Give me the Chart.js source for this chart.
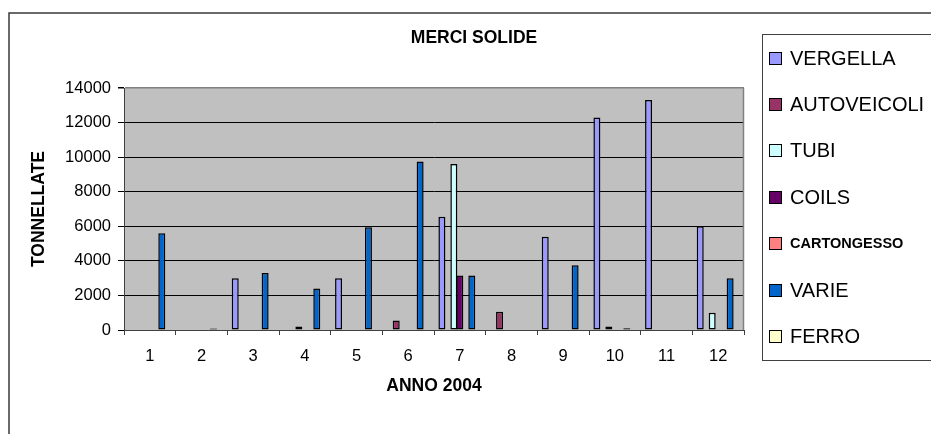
<!DOCTYPE html>
<html>
<head>
<meta charset="utf-8">
<script src="https://cdn.jsdelivr.net/npm/chart.js@4.4.1/dist/chart.umd.min.js"></script>
<style>
  html, body { margin: 0; padding: 0; background: #fff; }
</style>
</head>
<body>
<canvas id="merciChart" width="931" height="434"></canvas>
<script>
// mesi dell'anno 2004
const mesi = ['1', '2', '3', '4', '5', '6', '7', '8', '9', '10', '11', '12'];
const yTicks = [0, 2000, 4000, 6000, 8000, 10000, 12000, 14000];

// tonnellate per tipo di merce
const vergella    = [0, 0, 3000, 0, 3000, 0, 6550, 0, 5400, 12300, 13300, 6000];
const autoveicoli = [0, 0, 0, 0, 0, 550, 0, 1050, 0, 0, 0, 0];
const tubi        = [0, 0, 0, 200, 0, 0, 9600, 0, 0, 200, 0, 1000];
const coils       = [0, 0, 0, 0, 0, 0, 3150, 0, 0, 0, 0, 0];
const cartongesso = [0, 0, 0, 0, 0, 0, 0, 0, 0, 0, 0, 0];
const varie       = [5600, 80, 3300, 2400, 5950, 9750, 3150, 0, 3750, 100, 0, 3000];
const ferro       = [0, 0, 0, 0, 0, 0, 0, 0, 0, 0, 0, 0];

const nomi = ['VERGELLA', 'AUTOVEICOLI', 'TUBI', 'COILS', 'CARTONGESSO', 'VARIE', 'FERRO'];
const valori = [vergella, autoveicoli, tubi, coils, cartongesso, varie, ferro];
const colori = ['#9999FF', '#993366', '#CCFFFF', '#660066', '#FF8080', '#0066CC', '#FFFFCC'];

const FONT = '"Liberation Sans", Arial, sans-serif';

// sfondo grigio, cornice esterna, legenda e titolo alla Excel
const stileExcel = {
    id: 'stileExcel',
    beforeDraw(chart) {
        const c = chart.ctx, a = chart.chartArea;
        c.save();
        c.fillStyle = '#fff';
        c.fillRect(0, 0, chart.width, chart.height);
        c.strokeStyle = '#3a3a3a';
        c.lineWidth = 1.5;
        c.strokeRect(9, 13, 960, 460);
        c.fillStyle = '#C0C0C0';
        c.fillRect(a.left, a.top, a.right - a.left, a.bottom - a.top);
        c.restore();
    },
    afterDraw(chart) {
        const c = chart.ctx, a = chart.chartArea;
        c.save();
        // bordo destro dell'area del grafico
        c.strokeStyle = '#808080';
        c.lineWidth = 1.5;
        c.beginPath();
        c.moveTo(a.right - 0.5, a.top);
        c.lineTo(a.right - 0.5, a.bottom);
        c.stroke();

        // titolo
        c.fillStyle = '#000';
        c.font = 'bold 17.5px ' + FONT;
        c.textAlign = 'center';
        c.textBaseline = 'middle';
        c.fillText('MERCI SOLIDE', 474, 38);

        // legenda
        c.strokeStyle = '#404040';
        c.lineWidth = 1;
        c.strokeRect(762.5, 34.5, 300, 326);
        c.textAlign = 'left';
        chart.data.datasets.forEach((ds, i) => {
            const yc = Math.round(57.5 + i * 46.4);
            c.fillStyle = ds.backgroundColor;
            c.fillRect(769, yc - 6, 13, 13);
            c.strokeStyle = '#000';
            c.strokeRect(769.5, yc - 5.5, 12, 12);
            c.fillStyle = '#000';
            c.font = ds.label === 'CARTONGESSO' ? 'bold 14.5px ' + FONT : '20px ' + FONT;
            c.fillText(ds.label, 790, yc + 1);
        });
        c.restore();
    }
};

const config = {
    type: 'bar',
    data: {
        labels: mesi,
        datasets: nomi.map((n, i) => ({
            label: n,
            data: valori[i],
            backgroundColor: colori[i],
            borderColor: '#000',
            borderWidth: 1.5,
            borderSkipped: false,
            categoryPercentage: 0.81,
            barPercentage: 1.17
        }))
    },
    options: {
        responsive: false,
        devicePixelRatio: 1,
        animation: false,
        layout: { padding: { left: 25, right: 187, top: 88, bottom: 33 } },
        plugins: {
            legend: { display: false },
            title: { display: false },
            tooltip: { enabled: false }
        },
        scales: {
            x: {
                afterFit: s => { s.height = 71; },
                grid: { drawOnChartArea: false, drawTicks: true, tickLength: 5, color: '#404040' },
                border: { color: '#404040', width: 1 },
                ticks: { color: '#000', font: { family: FONT, size: 16.5 }, padding: 12, maxRotation: 0 },
                title: { display: true, text: 'ANNO 2004', color: '#000', font: { family: FONT, size: 17.5, weight: 'bold' } }
            },
            y: {
                min: 0,
                max: 14000,
                afterFit: s => { s.width = 99; },
                afterBuildTicks: s => { s.ticks = yTicks.map(v => ({ value: v })); },
                grid: {
                    color: ctx => (ctx.tick && ctx.tick.value === 14000) ? '#808080' : '#000',
                    tickColor: '#000',
                    tickLength: 6,
                    lineWidth: ctx => (ctx.tick && ctx.tick.value === 14000) ? 1.5 : 1
                },
                border: { color: '#404040', width: 1 },
                ticks: {
                    color: '#000',
                    font: { family: FONT, size: 16.5 },
                    padding: 7,
                    callback: v => String(v)
                },
                title: { display: true, text: 'TONNELLATE', color: '#000', font: { family: FONT, size: 17.5, weight: 'bold' } }
            }
        }
    },
    plugins: [stileExcel]
};

window.addEventListener('load', () => {
    const ctx = document.getElementById('merciChart').getContext('2d');
    new Chart(ctx, config);
});
</script>
</body>
</html>
